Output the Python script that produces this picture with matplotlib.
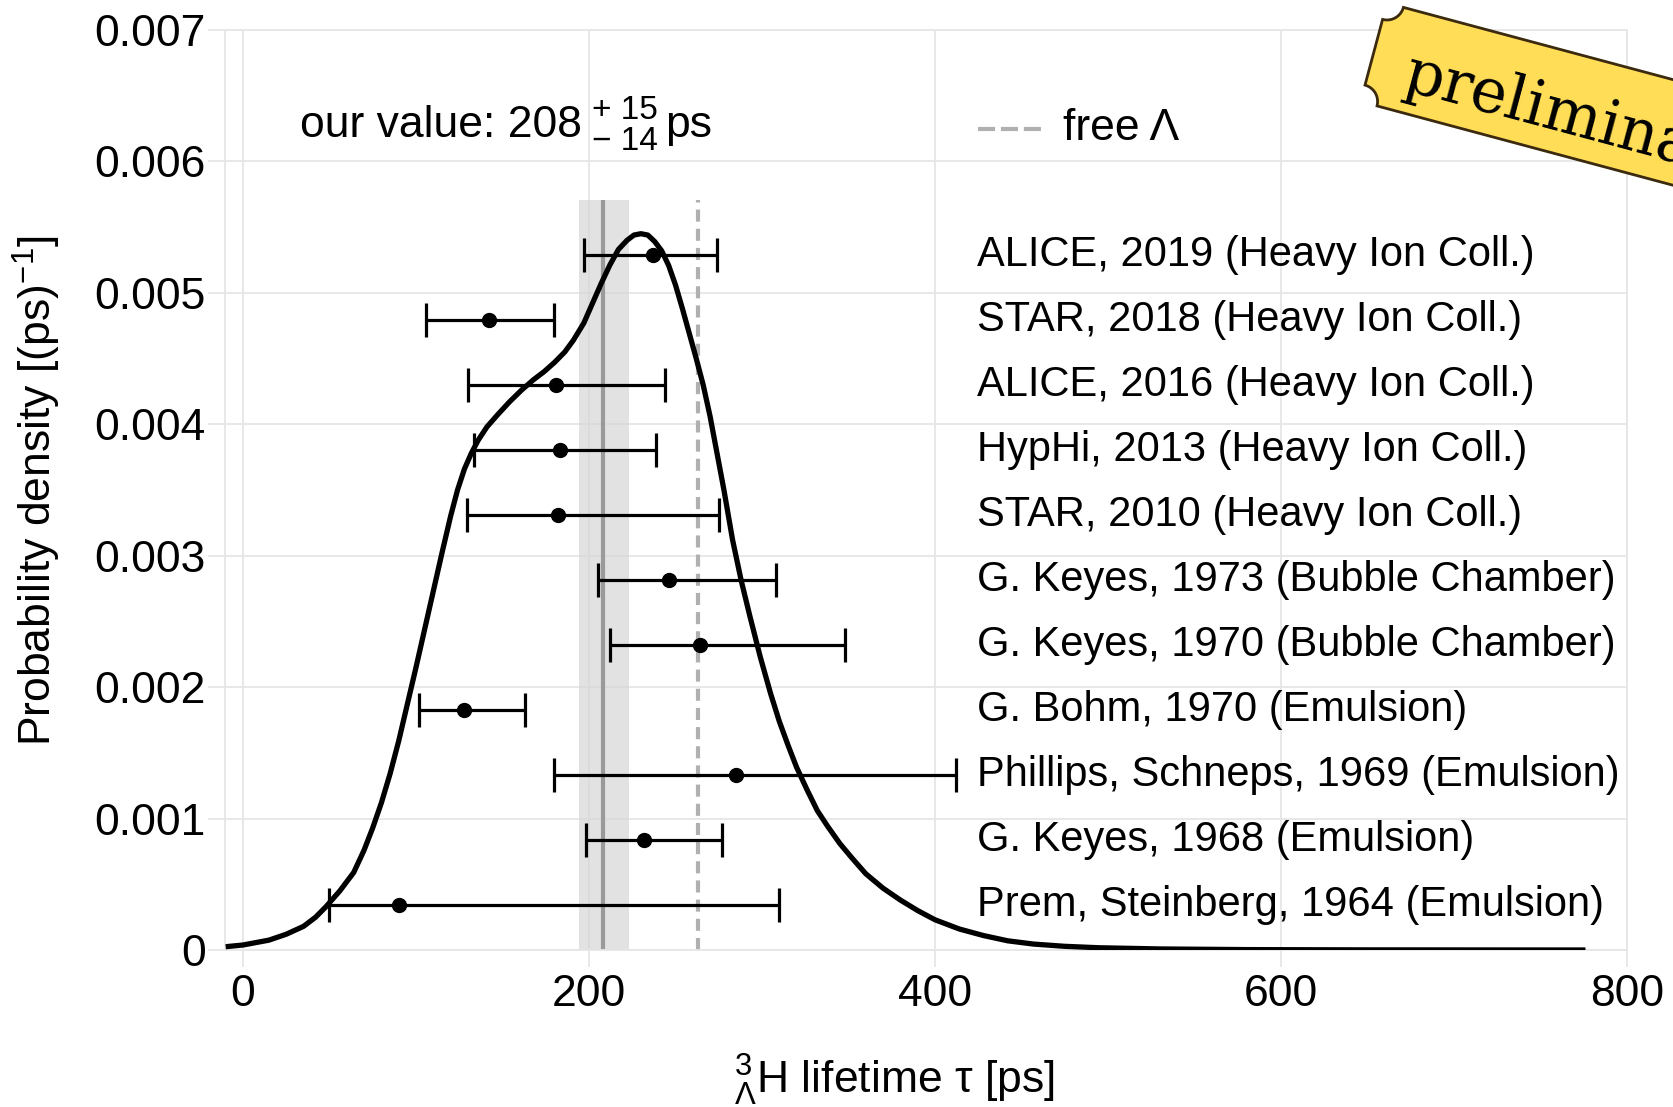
import numpy as np
import matplotlib
matplotlib.use('Agg')
import matplotlib.pyplot as plt
from matplotlib.path import Path
from matplotlib.patches import PathPatch

plt.rcParams['font.family'] = ['Liberation Sans', 'DejaVu Sans']
plt.rcParams['mathtext.fontset'] = 'custom'
plt.rcParams['mathtext.rm'] = 'Liberation Sans'
plt.rcParams['mathtext.it'] = 'Liberation Sans:italic'
plt.rcParams['mathtext.bf'] = 'Liberation Sans:bold'

# ---------------- data ----------------
experiments = [
    "ALICE, 2019 (Heavy Ion Coll.)",
    "STAR, 2018 (Heavy Ion Coll.)",
    "ALICE, 2016 (Heavy Ion Coll.)",
    "HypHi, 2013 (Heavy Ion Coll.)",
    "STAR, 2010 (Heavy Ion Coll.)",
    "G. Keyes, 1973 (Bubble Chamber)",
    "G. Keyes, 1970 (Bubble Chamber)",
    "G. Bohm, 1970 (Emulsion)",
    "Phillips, Schneps, 1969 (Emulsion)",
    "G. Keyes, 1968 (Emulsion)",
    "Prem, Steinberg, 1964 (Emulsion)",
]
centers = [237, 142, 181, 183, 182, 246, 264, 128, 285, 232, 90]
err_low_edge = [197, 106, 130, 133.5, 129.5, 205, 212, 102, 180, 198, 50]
err_high_edge = [274, 179.5, 244, 239, 275, 308, 348, 163, 412, 277, 310]
row_y = [0.005288, 0.004793, 0.004299, 0.003804, 0.003310, 0.002815,
         0.002320, 0.001826, 0.001331, 0.000837, 0.000342]

curve_tau = [-10, 0, 15, 25, 35, 42, 48, 56, 64, 70, 75, 80, 85, 90, 95, 100,
             105, 110, 115, 120, 124, 128, 132, 136, 141, 147, 154, 161, 168,
             174, 180, 186, 191, 197, 202, 207, 212, 217, 222, 226, 230, 234,
             238, 242, 246, 250, 254, 258, 262, 266, 270, 274, 278, 283, 288,
             293, 299, 305, 310, 315, 320, 326, 332, 338, 345, 352, 360, 370,
             380, 390, 400, 414, 428, 442, 457, 475, 495, 530, 580, 650, 776]
curve_density = [0.000025, 0.000038, 0.000075, 0.00012, 0.00018, 0.00025,
                 0.00033, 0.00045, 0.00059, 0.00076, 0.00093, 0.00112,
                 0.00134, 0.00159, 0.00187, 0.00215, 0.00244, 0.00273,
                 0.00302, 0.00330, 0.00350, 0.00366, 0.00378, 0.00388,
                 0.00398, 0.00407, 0.00417, 0.00426, 0.00434, 0.00440,
                 0.00447, 0.00455, 0.00464, 0.00477, 0.00492, 0.00507,
                 0.00521, 0.00533, 0.00540, 0.00544, 0.00545, 0.00544,
                 0.00539, 0.00532, 0.00521, 0.00506, 0.00488, 0.00469,
                 0.00450, 0.00430, 0.00406, 0.00378, 0.00350, 0.00312,
                 0.00281, 0.00254, 0.00223, 0.00195, 0.00174, 0.00156,
                 0.00139, 0.00122, 0.00106, 0.00094, 0.00081, 0.00070,
                 0.00058, 0.00047, 0.00038, 0.00030, 0.00023, 0.00016,
                 0.00011, 0.00007, 0.000045, 0.000028, 0.000017, 0.000008,
                 0.000003, 0.000001, 0.0]

our_value = 208
our_err_plus = 15
our_err_minus = 14
free_lambda = 263.2
band_top = 0.00571

x_ticks = [0, 200, 400, 600, 800]
y_ticks = [0, 0.001, 0.002, 0.003, 0.004, 0.005, 0.006, 0.007]
y_tick_labels = ["0", "0.001", "0.002", "0.003", "0.004", "0.005", "0.006", "0.007"]

# ---------------- figure ----------------
W, H = 1674, 1107
fig = plt.figure(figsize=(W / 100, H / 100), dpi=100)
fig.patch.set_facecolor('white')
ax = fig.add_axes([225 / W, 1 - 950 / H, (1627 - 225) / W, (950 - 30) / H])
ax.set_xlim(-10.4, 800)
ax.set_ylim(0, 0.007)

gridc = '#e6e6e6'
ax.set_xticks(x_ticks)
ax.set_xticklabels([str(v) for v in x_ticks])
ax.set_yticks(y_ticks)
ax.set_yticklabels(y_tick_labels)
ax.grid(True, color=gridc, lw=1.3, zorder=0)
ax.set_axisbelow(True)
for s in ['top', 'right']:
    ax.spines[s].set_visible(False)
for s in ['left', 'bottom']:
    ax.spines[s].set_color(gridc)
    ax.spines[s].set_linewidth(1.3)
ax.tick_params(axis='both', colors=gridc, length=12, width=1.3, labelsize=32,
               labelcolor='black')
ax.tick_params(axis='y', pad=2)
ax.tick_params(axis='x', pad=5)
ax.axhline(0.007, color=gridc, lw=1.3, zorder=0, clip_on=False)
ax.axvline(800, color=gridc, lw=1.3, zorder=0, clip_on=False)

# our value band and line
ax.fill_between([our_value - our_err_minus, our_value + our_err_plus], 0, band_top,
                color='#d6d6d6', alpha=0.7, lw=0, zorder=1)
ax.vlines(our_value, 0, band_top, colors='#9a9a9a', lw=3, zorder=2)
ax.vlines(free_lambda, 0, band_top, colors='#b0b0b0', lw=3,
          linestyles=(0, (2.9, 1.7)), zorder=2)

# density curve
ax.plot(curve_tau, curve_density, color='black', lw=3.8, zorder=4,
        solid_joinstyle='round', solid_capstyle='butt')

# error bars
c = np.array(centers, dtype=float)
lo = c - np.array(err_low_edge)
hi = np.array(err_high_edge) - c
ax.errorbar(c, row_y, xerr=[lo, hi], fmt='o', color='black', ms=10,
            elinewidth=2.3, capsize=12, capthick=2.3, zorder=5)

for name, y in zip(experiments, row_y):
    ax.text(424, y, name, ha='left', va='center', fontsize=30, zorder=6)

# our value text
t = ax.text(33, 0.00627, "our value: %d" % our_value, ha='left', va='center',
            fontsize=32)
ax.annotate("+ %d" % our_err_plus, xy=(1, 0.5), xycoords=t, xytext=(7, 11),
            textcoords='offset points', ha='left', va='center', fontsize=24)
ax.annotate("\u2212 %d" % our_err_minus, xy=(1, 0.5), xycoords=t, xytext=(7, -11),
            textcoords='offset points', ha='left', va='center', fontsize=24)
ax.annotate("ps", xy=(1, 0.5), xycoords=t, xytext=(60, 0),
            textcoords='offset points', ha='left', va='center', fontsize=32)

# free lambda legend
ax.plot([425, 461], [0.00625, 0.00625], color='#b0b0b0', lw=3,
        linestyle=(0, (4.1, 1.4)))
ax.text(474, 0.00625, "free \u039b", ha='left', va='center', fontsize=32)

# axis labels
fig.text(37 / W, 1 - 491 / H, "Probability density [(ps)$^{-1}$]", rotation=90,
         ha='center', va='center', fontsize=32)
fig.text(894 / W, 1 - 1080 / H, "${}^{3}_{\\Lambda}$H lifetime \u03c4 [ps]",
         ha='center', va='center', fontsize=32)

# ---------------- preliminary banner ----------------
ov = fig.add_axes([0, 0, 1, 1], facecolor='none')
ov.set_xlim(0, W)
ov.set_ylim(H, 0)
ov.axis('off')
ang = np.deg2rad(15)
d = np.array([np.cos(ang), np.sin(ang)])
n = np.array([-np.sin(ang), np.cos(ang)])
C = np.array([1387.0, 3.0])
r, h, L = 17.0, 102.0, 420.0
pts = [(r, 0), (L, 0), (L, h), (r, h)]
th = np.linspace(0, np.pi / 2, 12)
pts += [(r * np.cos(a), h - r * np.sin(a)) for a in th]
pts += [(0, r)]
pts += [(r * np.sin(a), r * np.cos(a)) for a in th]
xy = np.array([C + u * d + v * n for u, v in pts])
path = Path(np.vstack([xy, xy[:1]]), closed=True)
ov.add_patch(PathPatch(path, facecolor='#ffdd57', edgecolor='#3b2a0e', lw=2,
                       clip_on=False, zorder=10))
tp = C + 36 * d + 80 * n
ov.text(tp[0], tp[1], "preliminary", rotation=-15, rotation_mode='anchor',
        ha='left', va='baseline', fontsize=44, family='DejaVu Serif',
        color='black', zorder=11, clip_on=False)

fig.savefig('out.png', dpi=100)
